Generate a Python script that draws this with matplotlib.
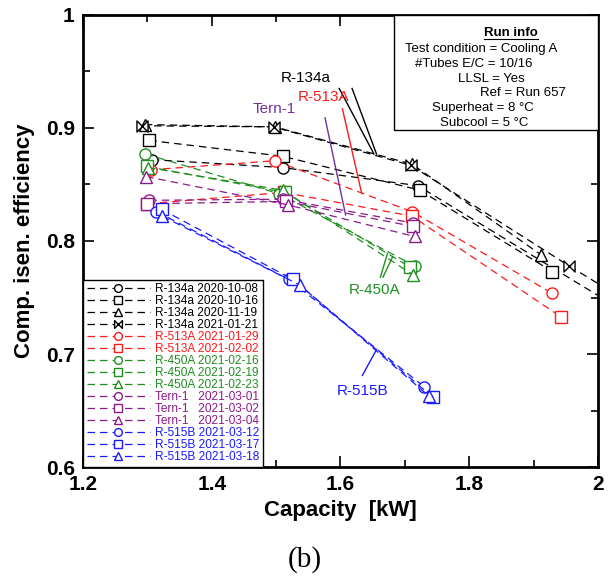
import matplotlib
matplotlib.use("Agg")
import matplotlib.pyplot as plt
from matplotlib.path import Path
from matplotlib.ticker import MultipleLocator, FuncFormatter

plt.rcParams['font.family'] = ['Liberation Sans', 'DejaVu Sans']

# ---------------- data ----------------
labels = ["R-134a 2020-10-08", "R-134a 2020-10-16", "R-134a 2020-11-19", "R-134a 2021-01-21",
          "R-513A 2021-01-29", "R-513A 2021-02-02",
          "R-450A 2021-02-16", "R-450A 2021-02-19", "R-450A 2021-02-23",
          "Tern-1   2021-03-01", "Tern-1   2021-03-02", "Tern-1   2021-03-04",
          "R-515B 2021-03-12", "R-515B 2021-03-17", "R-515B 2021-03-18"]

x_r134a_1008 = [1.307, 1.510, 1.720, 2.008]
y_r134a_1008 = [0.872, 0.865, 0.849, 0.749]
x_r134a_1016 = [1.303, 1.510, 1.723, 1.929]
y_r134a_1016 = [0.889, 0.875, 0.845, 0.773]
x_r134a_1119 = [1.296, 1.498, 1.711, 1.911]
y_r134a_1119 = [0.903, 0.901, 0.868, 0.788]
x_r134a_0121 = [1.291, 1.496, 1.709, 1.955, 2.050]
y_r134a_0121 = [0.902, 0.901, 0.867, 0.778, 0.745]

x_r513a_0129 = [1.305, 1.498, 1.711, 1.928]
y_r513a_0129 = [0.863, 0.871, 0.826, 0.754]
x_r513a_0202 = [1.300, 1.512, 1.711, 1.942]
y_r513a_0202 = [0.833, 0.843, 0.822, 0.733]

x_r450a_0216 = [1.297, 1.504, 1.715]
y_r450a_0216 = [0.877, 0.842, 0.778]
x_r450a_0219 = [1.299, 1.514, 1.708]
y_r450a_0219 = [0.866, 0.843, 0.777]
x_r450a_0223 = [1.301, 1.510, 1.713]
y_r450a_0223 = [0.865, 0.845, 0.770]

x_tern_0301 = [1.303, 1.510, 1.712]
y_tern_0301 = [0.836, 0.837, 0.816]
x_tern_0302 = [1.300, 1.516, 1.712]
y_tern_0302 = [0.833, 0.835, 0.813]
x_tern_0304 = [1.298, 1.518, 1.715]
y_tern_0304 = [0.857, 0.832, 0.804]

x_r515b_0312 = [1.314, 1.520, 1.730]
y_r515b_0312 = [0.826, 0.766, 0.671]
x_r515b_0317 = [1.322, 1.526, 1.743]
y_r515b_0317 = [0.828, 0.766, 0.662]
x_r515b_0318 = [1.323, 1.537, 1.737]
y_r515b_0318 = [0.822, 0.761, 0.663]

xs = [x_r134a_1008, x_r134a_1016, x_r134a_1119, x_r134a_0121,
      x_r513a_0129, x_r513a_0202,
      x_r450a_0216, x_r450a_0219, x_r450a_0223,
      x_tern_0301, x_tern_0302, x_tern_0304,
      x_r515b_0312, x_r515b_0317, x_r515b_0318]
ys = [y_r134a_1008, y_r134a_1016, y_r134a_1119, y_r134a_0121,
      y_r513a_0129, y_r513a_0202,
      y_r450a_0216, y_r450a_0219, y_r450a_0223,
      y_tern_0301, y_tern_0302, y_tern_0304,
      y_r515b_0312, y_r515b_0317, y_r515b_0318]

BLACK, RED, GREEN, PURPLE, BLUE = 'black', '#ff1a1a', '#1f8f1f', '#8b1a8b', '#1a1aff'
colors = [BLACK]*4 + [RED]*2 + [GREEN]*3 + [PURPLE]*3 + [BLUE]*3

bowtie = Path([(-1, 1), (-1, -1), (1, 1), (1, -1), (-1, 1)],
              [Path.MOVETO, Path.LINETO, Path.LINETO, Path.LINETO, Path.CLOSEPOLY])
markers = ['o', 's', '^', bowtie, 'o', 's', 'o', 's', '^', 'o', 's', '^', 'o', 's', '^']

run_info = ["Test condition = Cooling A", "#Tubes E/C = 10/16", "LLSL = Yes",
            "Ref = Run 657", "Superheat = 8 °C", "Subcool = 5 °C"]
run_info_x = [1.700, 1.716, 1.782, 1.816, 1.742, 1.754]

# ---------------- figure ----------------
fig = plt.figure(figsize=(6.11, 5.81), dpi=100)
ax = fig.add_axes([0.1358, 0.1962, 0.8429, 0.778])

for x, y, c, m, lab in zip(xs, ys, colors, markers, labels):
    ax.plot(x, y, color=c, linestyle=(0, (6, 4)), linewidth=0.9,
            marker=m, markersize=8, markerfacecolor='white', markeredgecolor=c,
            markeredgewidth=1.0, label=lab, clip_on=True)

ax.set_xlim(1.2, 2.0)
ax.set_ylim(0.6, 1.0)
ax.xaxis.set_major_locator(MultipleLocator(0.2))
ax.xaxis.set_minor_locator(MultipleLocator(0.1))
ax.yaxis.set_major_locator(MultipleLocator(0.1))
ax.yaxis.set_minor_locator(MultipleLocator(0.05))
fmt = FuncFormatter(lambda v, p: ('%g' % round(v, 3)))
ax.xaxis.set_major_formatter(fmt)
ax.yaxis.set_major_formatter(fmt)
ax.tick_params(which='both', direction='in', top=True, right=True, width=1.2)
ax.tick_params(which='major', length=8, labelsize=15, pad=6)
ax.tick_params(which='minor', length=5)
for lbl in ax.get_xticklabels() + ax.get_yticklabels():
    lbl.set_fontweight('bold')
for s in ax.spines.values():
    s.set_linewidth(2)

ax.set_xlabel("Capacity  [kW]", fontsize=16, fontweight='bold', labelpad=4)
ax.set_ylabel("Comp. isen. efficiency", fontsize=16, fontweight='bold', labelpad=8)

# legend
leg = ax.legend(loc='lower left', bbox_to_anchor=(0, 0), borderaxespad=0,
                fontsize=8.6, handlelength=5.3, handletextpad=0.4, labelspacing=0.0,
                handleheight=0.6, borderpad=0.3, markerscale=0.7, fancybox=False,
                framealpha=1, edgecolor='black')
leg.get_frame().set_linewidth(1.0)
for t, c in zip(leg.get_texts(), colors):
    t.set_color(c)

# run info box
ax.add_patch(plt.Rectangle((1.683, 0.898), 0.317, 0.102, facecolor='white',
                           edgecolor='black', linewidth=1.0, zorder=5))
t_run = ax.text(1.8646, 0.984, "Run info", ha='center', va='center', fontsize=9.5,
                fontweight='bold', zorder=6)
ry = 0.9699
for txt, rx in zip(run_info, run_info_x):
    ax.text(rx, ry, txt, ha='left', va='center', fontsize=9.5, zorder=6)
    ry -= 0.0131
fig.canvas.draw()
bb = t_run.get_window_extent().transformed(ax.transData.inverted())
ax.plot([bb.x0, bb.x1], [bb.y0 + 0.0005, bb.y0 + 0.0005], color='black', lw=0.8, zorder=6)

# annotations
ax.text(1.546, 0.944, "R-134a", color='black', fontsize=11, ha='center', va='center')
ax.plot([1.598, 1.652], [0.935, 0.877], color='black', lw=1.0)
ax.plot([1.618, 1.656], [0.935, 0.877], color='black', lw=1.0)
ax.text(1.573, 0.927, "R-513A", color=RED, fontsize=11, ha='center', va='center')
ax.plot([1.603, 1.633], [0.917, 0.842], color=RED, lw=1.0)
ax.text(1.497, 0.917, "Tern-1", color='#7030a0', fontsize=11, ha='center', va='center')
ax.plot([1.576, 1.608], [0.909, 0.823], color='#7030a0', lw=1.0)
ax.text(1.653, 0.757, "R-450A", color=GREEN, fontsize=11, ha='center', va='center')
ax.plot([1.662, 1.673], [0.768, 0.789], color=GREEN, lw=1.0)
ax.plot([1.666, 1.681], [0.768, 0.786], color=GREEN, lw=1.0)
ax.text(1.635, 0.667, "R-515B", color=BLUE, fontsize=11, ha='center', va='center')
ax.plot([1.634, 1.656], [0.681, 0.704], color=BLUE, lw=1.0)

fig.text(305/611, 1 - 560/581, "(b)", ha='center', va='center', fontsize=21,
         family=['Liberation Serif', 'DejaVu Serif'])

fig.savefig("out.png", dpi=100)
